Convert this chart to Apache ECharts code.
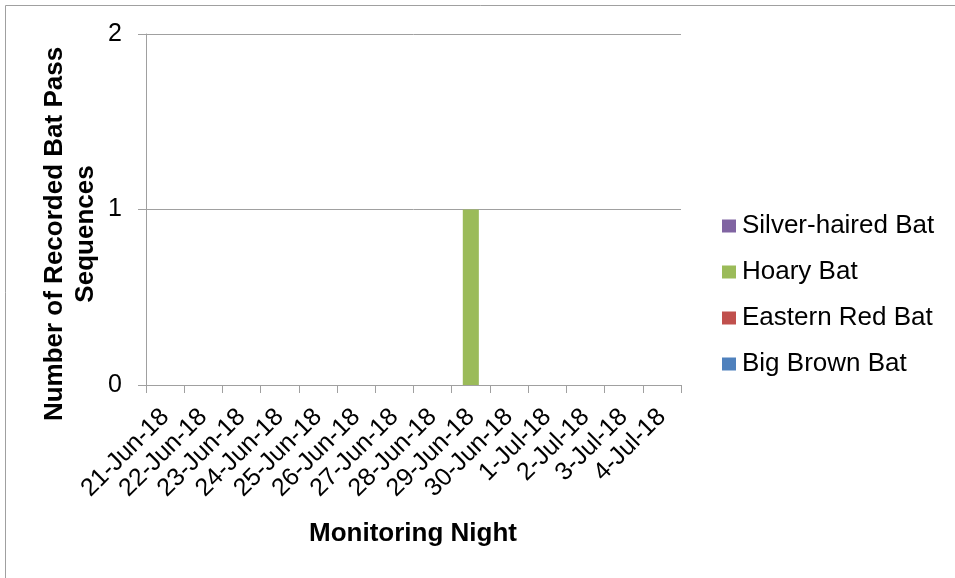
<!DOCTYPE html>
<html>
<head>
<meta charset="utf-8">
<script src="https://cdn.jsdelivr.net/npm/echarts@6/dist/echarts.min.js"></script>
<style>
  html, body { margin: 0; padding: 0; background: #ffffff; }
  #chart { width: 955px; height: 578px; }
</style>
</head>
<body>
<div id="chart"></div>
<script>
// Monitoring nights (x-axis categories)
const nights = ['21-Jun-18', '22-Jun-18', '23-Jun-18', '24-Jun-18', '25-Jun-18', '26-Jun-18', '27-Jun-18',
                '28-Jun-18', '29-Jun-18', '30-Jun-18', '1-Jul-18', '2-Jul-18', '3-Jul-18', '4-Jul-18'];

// Recorded bat pass sequences per species per night
const bigBrownBat      = [0, 0, 0, 0, 0, 0, 0, 0, 0, 0, 0, 0, 0, 0];
const easternRedBat    = [0, 0, 0, 0, 0, 0, 0, 0, 0, 0, 0, 0, 0, 0];
const hoaryBat         = [0, 0, 0, 0, 0, 0, 0, 0, 1, 0, 0, 0, 0, 0];
const silverHairedBat  = [0, 0, 0, 0, 0, 0, 0, 0, 0, 0, 0, 0, 0, 0];

// Y-axis ticks
const yTicks = [0, 1, 2];

const FONT = "'Liberation Sans', Arial, sans-serif";
const AXIS_GRAY = '#a0a0a0';

const chart = echarts.init(document.getElementById('chart'), null, { renderer: 'canvas' });

function barSeries(name, data, color) {
  return {
    name: name,
    type: 'bar',
    stack: 'passes',
    data: data,
    barWidth: '42%',
    itemStyle: { color: color },
    emphasis: { disabled: true }
  };
}

chart.setOption({
  animation: false,
  backgroundColor: '#ffffff',
  textStyle: { fontFamily: FONT },
  grid: { left: 146, right: 274, top: 34, bottom: 193, containLabel: false },
  legend: {
    orient: 'vertical',
    left: 722,
    top: 213,
    padding: 0,
    icon: 'rect',
    itemWidth: 14,
    itemHeight: 13,
    itemGap: 20,
    textStyle: { fontFamily: FONT, fontSize: 26, lineHeight: 26, color: '#000000', padding: [0, 0, 0, 1] },
    data: ['Silver-haired Bat', 'Hoary Bat', 'Eastern Red Bat', 'Big Brown Bat']
  },
  xAxis: {
    type: 'category',
    data: nights,
    boundaryGap: true,
    axisLine: { lineStyle: { color: AXIS_GRAY, width: 1 } },
    axisTick: { show: true, length: 8, inside: false, lineStyle: { color: AXIS_GRAY } },
    axisLabel: {
      interval: 0,
      rotate: 45,
      margin: 28,
      fontSize: 25,
      fontFamily: FONT,
      color: '#000000'
    },
    splitLine: { show: false }
  },
  yAxis: {
    type: 'value',
    min: yTicks[0],
    max: yTicks[yTicks.length - 1],
    interval: 1,
    axisLine: { show: true, lineStyle: { color: AXIS_GRAY, width: 1 } },
    axisTick: { show: true, length: 8, lineStyle: { color: AXIS_GRAY } },
    axisLabel: { margin: 24, fontSize: 25, fontFamily: FONT, color: '#000000' },
    splitLine: { show: true, lineStyle: { color: AXIS_GRAY, width: 1 } }
  },
  graphic: [
    {
      type: 'rect',
      shape: { x: 5.5, y: 5.5, width: 2000, height: 2000 },
      style: { fill: 'none', stroke: '#a0a0a0', lineWidth: 1 },
      silent: true
    },
    {
      type: 'text',
      x: 70,
      y: 234,
      rotation: Math.PI / 2,
      style: {
        text: 'Number of Recorded Bat Pass\nSequences',
        align: 'center',
        verticalAlign: 'middle',
        lineHeight: 31,
        font: 'bold 26px ' + FONT,
        fill: '#000000'
      },
      silent: true
    },
    {
      type: 'text',
      x: 413,
      y: 534,
      style: {
        text: 'Monitoring Night',
        align: 'center',
        verticalAlign: 'middle',
        font: 'bold 26px ' + FONT,
        fill: '#000000'
      },
      silent: true
    }
  ],
  series: [
    barSeries('Big Brown Bat', bigBrownBat, '#4f81bd'),
    barSeries('Eastern Red Bat', easternRedBat, '#c0504d'),
    barSeries('Hoary Bat', hoaryBat, '#9bbb59'),
    barSeries('Silver-haired Bat', silverHairedBat, '#8064a2')
  ]
});
</script>
</body>
</html>
